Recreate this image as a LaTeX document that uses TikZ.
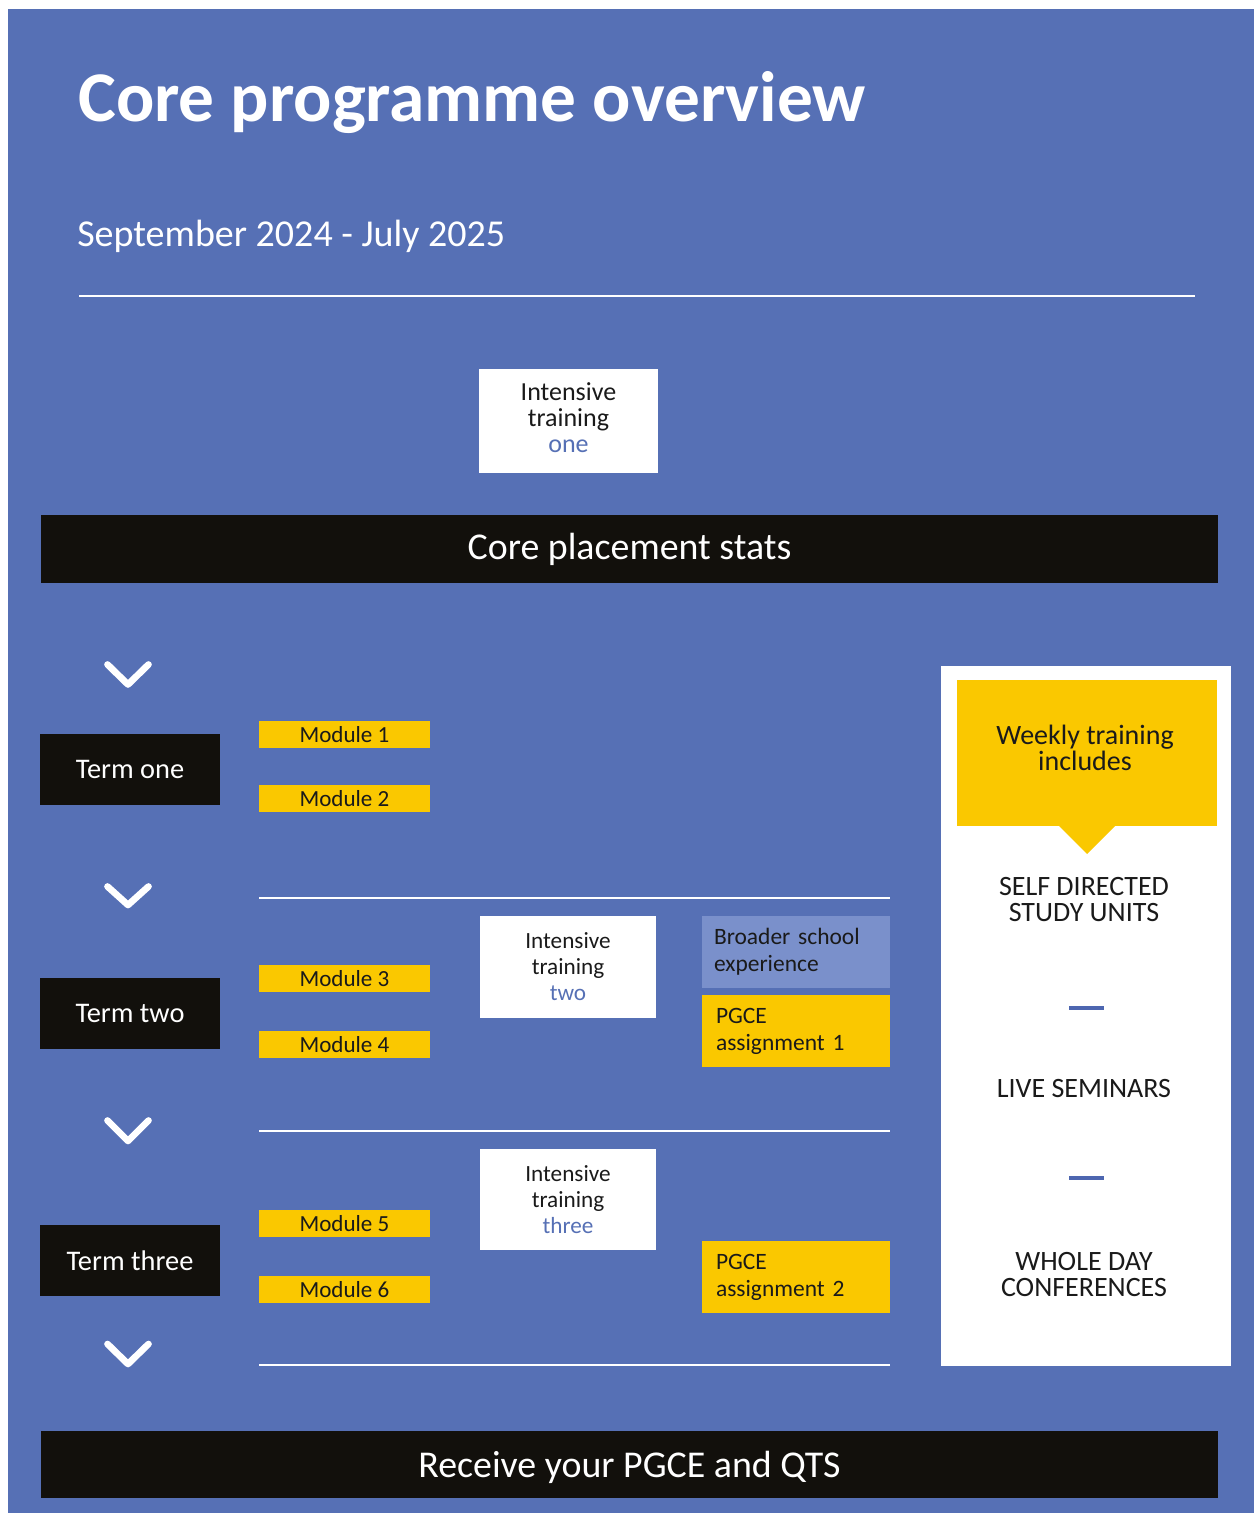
\documentclass[tikz,border=0pt]{standalone}
\usepackage{fontspec}
\setmainfont{Carlito}
\definecolor{bgblue}{HTML}{5670B5}
\definecolor{barblack}{HTML}{12100C}
\definecolor{ygold}{HTML}{FAC800}
\definecolor{lblue}{HTML}{7A90CB}
\definecolor{txt}{HTML}{1A1A1A}
\definecolor{dashblue}{HTML}{4D66B0}
\begin{document}
\begin{tikzpicture}[x=0.75pt,y=-0.75pt,
  area/.style args={#1/#2/#3/#4}{minimum width={(#3-#1)*0.75pt}, minimum height={(#4-#2)*0.75pt},
     at={({(#1+#3)/2},{(#2+#4)/2})}, inner sep=0pt, outer sep=0pt},
  blackbar/.style={fill=barblack, text=white, font=\fontsize{28.4}{30}\selectfont},
  termbox/.style={fill=barblack, text=white, font=\fontsize{21.3}{24}\selectfont},
  modbox/.style={fill=ygold, text=txt, font=\fontsize{17.3}{20}\selectfont},
  intbox/.style={fill=white, text=txt, align=center},
  notebox/.style={text=txt, align=left, font=\fontsize{17.6}{20.25}\selectfont},
  itemtext/.style={text=txt, align=center, inner sep=0pt, font=\fontsize{21}{19.5}\selectfont},
  chevron/.style={white, line width=5pt, line cap=round, line join=round},
  rule/.style={white, line width=1.6pt},
  sep/.style={dashblue, line width=3pt}
]
\useasboundingbox (0,0) rectangle (1254,1513);
\fill[white] (0,0) rectangle (1254,1513);
\fill[bgblue] (8,9) rectangle (1254,1513);

% title
\node[anchor=base west, inner sep=0pt, text=white, font=\fontsize{53.5}{60}\selectfont\bfseries] (title) at (78,122) {Core programme overview};
\node[anchor=base west, inner sep=0pt, text=white, font=\fontsize{28.5}{32}\selectfont] (subtitle) at (77,246) {September 2024 - July 2025};
\draw[rule] (79,296) -- (1195,296);

% intensive one
\node[area=479/369/658/473, intbox, text depth=4.5pt, font=\fontsize{19.5}{19.5}\selectfont] (int1) {Intensive\\training\\\textcolor{bgblue}{one}};

% core placement bar
\node[area=41/515/1218/583, blackbar] (cps) {Core placement stats};

% chevrons
\draw[chevron] (107.5,664.5) -- (128,684.5) -- (148.5,664.5);
\draw[chevron] (107.5,886.5) -- (128,905) -- (148.5,886.5);
\draw[chevron] (107.5,1120.5) -- (128,1141) -- (148.5,1120.5);
\draw[chevron] (107.5,1344) -- (128,1364) -- (148.5,1344);

% terms
\node[area=40/734/220/805, termbox] (t1) {Term one};
\node[area=40/978/220/1049, termbox] (t2) {Term two};
\node[area=40/1225/220/1296, termbox] (t3) {Term three};

% modules
\node[area=259/721/430/748, modbox] (m1) {Module 1};
\node[area=259/785/430/812, modbox] (m2) {Module 2};
\node[area=259/965/430/992, modbox] (m3) {Module 3};
\node[area=259/1031/430/1058, modbox] (m4) {Module 4};
\node[area=259/1210/430/1237, modbox] (m5) {Module 5};
\node[area=259/1276/430/1303, modbox] (m6) {Module 6};

% rules between terms
\draw[rule] (259,898) -- (890,898);
\draw[rule] (259,1131) -- (890,1131);
\draw[rule] (259,1365) -- (890,1365);

% intensive two & three
\node[area=480/916/656/1018, intbox, font=\fontsize{17.4}{19.5}\selectfont] (int2) {Intensive\\training\\\textcolor{bgblue}{two}};
\node[area=480/1149/656/1250, intbox, font=\fontsize{17.4}{19.5}\selectfont] (int3) {Intensive\\training\\\textcolor{bgblue}{three}};

% notes
\node[area=702/916/890/988, fill=lblue, notebox, text width=123pt] (bse) {Broader school\\experience};
\node[area=702/995/890/1067, fill=ygold, notebox, text width=120pt] (pa1) {PGCE\\assignment 1};
\node[area=702/1241/890/1313, fill=ygold, notebox, text width=120pt] (pa2) {PGCE\\assignment 2};

% right panel
\node[area=941/666/1231/1366, fill=white] (panel) {};
\node[area=957/680/1217/826, fill=ygold] (callout) {};
\fill[ygold] (1058,825) -- (1087,854) -- (1116,825) -- cycle;
\node[itemtext] (weekly) at (1085,748) {Weekly training\\includes};
\node[itemtext] (self) at (1084,900) {SELF DIRECTED\\STUDY UNITS};
\draw[sep] (1069,1008) -- (1104,1008);
\node[itemtext] (live) at (1084,1088) {LIVE SEMINARS};
\draw[sep] (1069,1178) -- (1104,1178);
\node[itemtext] (whole) at (1084,1274) {WHOLE DAY\\CONFERENCES};

% bottom bar
\node[area=41/1431/1218/1498, blackbar, text depth=0pt] (final) {Receive your PGCE and QTS};
\end{tikzpicture}
\end{document}
